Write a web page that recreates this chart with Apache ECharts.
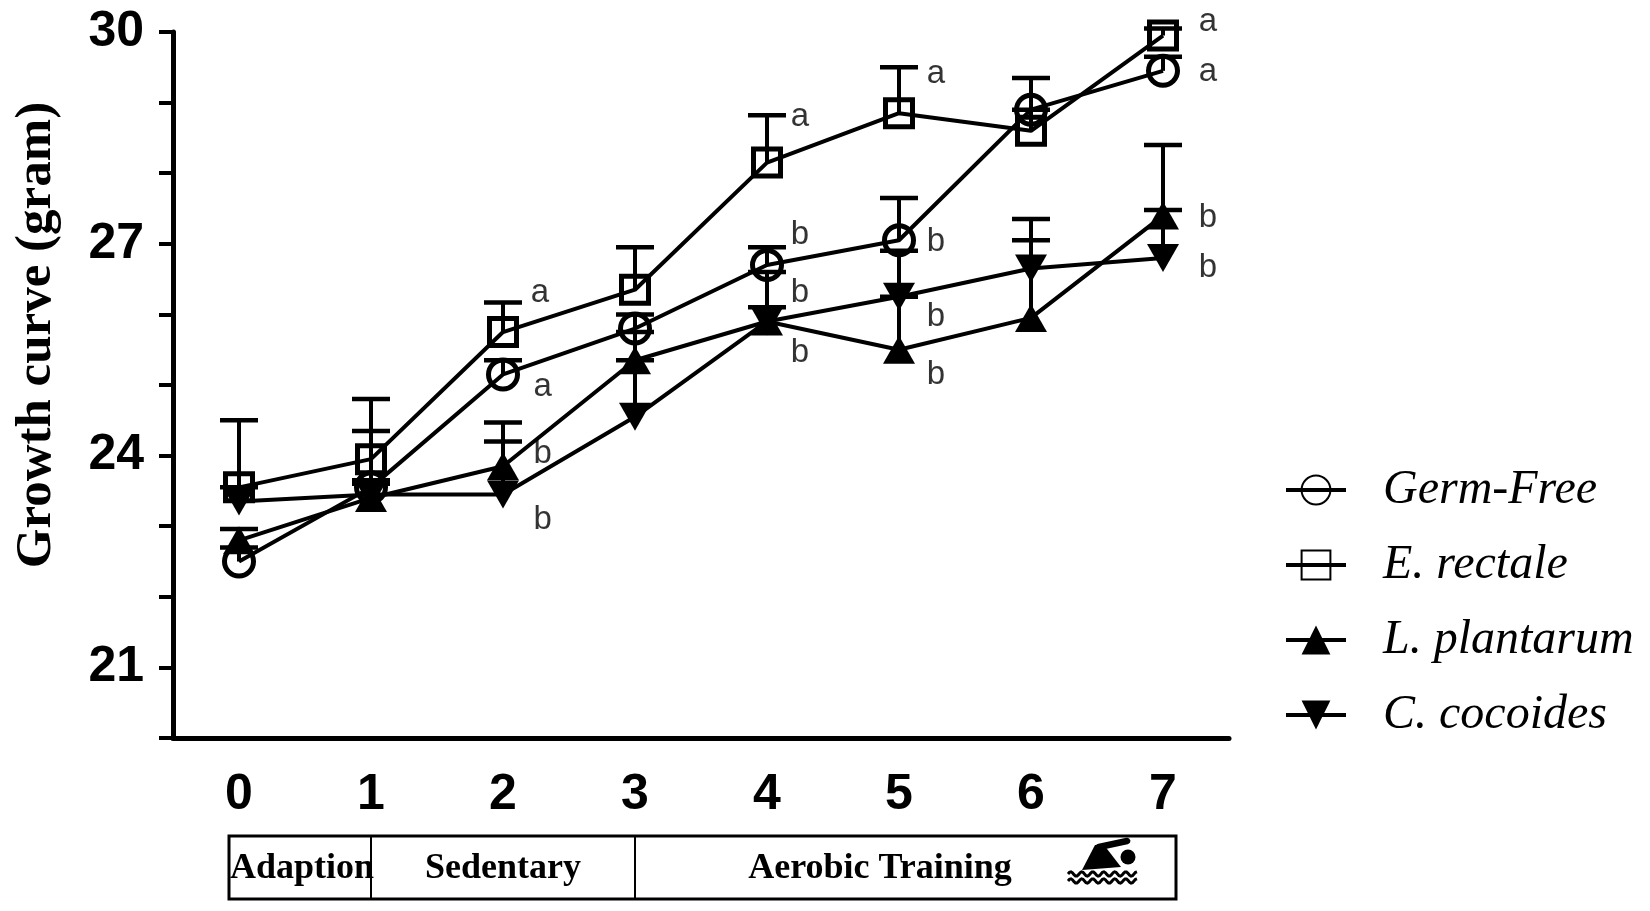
<!DOCTYPE html>
<html><head><meta charset="utf-8">
<script src="https://cdn.jsdelivr.net/npm/echarts@6/dist/echarts.min.js"></script>
<style>html,body{margin:0;padding:0;background:#fff}#c{width:1650px;height:911px}</style>
</head><body><div id="c"></div>
<script>
// ---- data ----
const days = ['0','1','2','3','4','5','6','7'];
const germFree   = [22.5, 23.55, 25.15, 25.8, 26.7, 27.05, 28.9, 29.45];
const eRectale   = [23.55, 23.95, 25.75, 26.35, 28.15, 28.85, 28.6, 29.95];
const lPlantarum = [22.8, 23.4, 23.85, 25.35, 25.9, 25.5, 25.95, 27.4];
const cCocoides  = [23.35, 23.45, 23.45, 24.55, 25.9, 26.25, 26.65, 26.8];
// upper error (SD)
const sdGermFree   = [0.2, 0.8, 0.2, 0.2, 0.25, 0.6, 0.45, 0.2];
const sdERectale   = [0.95, 0.85, 0.42, 0.6, 0.67, 0.65, 0.3, 0.1];
const sdLPlantarum = [0.16, 0.2, 0.62, 0.4, 0.2, 0.75, 1.1, 1.0];
const sdCCocoides  = [0.2, 0.2, 0.75, 0.8, 0.7, 0.65, 0.7, 0.68];
const yTickLabels = [21, 24, 27, 30];
const seriesNames = ['Germ-Free', 'E. rectale', 'L. plantarum', 'C. cocoides'];
const phaseNames = ['Adaption', 'Sedentary', 'Aerobic Training'];
const phaseDividers = [1, 3];
const yAxisTitle = 'Growth curve (gram)';
// significance letters: [day position, weight, letter]
const sigLetters = [
  [2.28, 26.3, 'a'], [2.3, 24.97, 'a'], [2.3, 24.03, 'b'], [2.3, 23.09, 'b'],
  [4.25, 28.8, 'a'], [4.25, 27.13, 'b'], [4.25, 26.3, 'b'], [4.25, 25.46, 'b'],
  [5.28, 29.4, 'a'], [5.28, 27.02, 'b'], [5.28, 25.97, 'b'], [5.28, 25.15, 'b'],
  [7.34, 30.15, 'a'], [7.34, 29.44, 'a'], [7.34, 27.36, 'b'], [7.34, 26.66, 'b']
];

const seriesValues = [germFree, eRectale, lPlantarum, cCocoides];
const seriesSd = [sdGermFree, sdERectale, sdLPlantarum, sdCCocoides];
const symbols = ['circle', 'rect', 'triangle', 'path://M0,0L20,0L10,17Z'];
const symbolSizes = [29, 27, [32, 28], [32, 28]];
const hollow = [true, true, false, false];

const chart = echarts.init(document.getElementById('c'), null, {renderer: 'canvas'});

function renderErr(params, api) {
  const i = api.value(0), m = api.value(1), t = api.value(2);
  const p0 = api.coord([i, m]), p1 = api.coord([i, t]);
  const w = 19;
  return {type: 'group', children: [
    {type: 'line', shape: {x1: p0[0], y1: p0[1], x2: p1[0], y2: p1[1]}, style: {stroke: '#000', lineWidth: 4}},
    {type: 'line', shape: {x1: p1[0] - w, y1: p1[1], x2: p1[0] + w, y2: p1[1]}, style: {stroke: '#000', lineWidth: 4.5}}
  ]};
}

const series = [];
seriesValues.forEach((vals, k) => {
  series.push({
    type: 'custom', renderItem: renderErr, z: 1, clip: false,
    encode: {x: 0, y: [1, 2]},
    data: vals.map((v, i) => [i, v, +(v + seriesSd[k][i]).toFixed(3)])
  });
});
seriesValues.forEach((vals, k) => {
  series.push({
    name: seriesNames[k], type: 'line', data: vals, z: 2,
    symbol: symbols[k], symbolSize: symbolSizes[k], showAllSymbol: true,
    lineStyle: {color: '#000', width: 4},
    itemStyle: hollow[k]
      ? {color: 'rgba(255,255,255,0)', borderColor: '#000', borderWidth: 5}
      : {color: '#000', borderColor: '#000', borderWidth: 0},
    emphasis: {disabled: true}
  });
});
series.push({
  type: 'scatter', xAxisIndex: 1, yAxisIndex: 0, z: 3, clip: false,
  symbolSize: 1, itemStyle: {color: 'rgba(0,0,0,0)'},
  data: sigLetters,
  label: {show: true, position: 'inside', formatter: p => p.value[2],
    fontFamily: 'Liberation Sans', fontSize: 33, color: '#000'}
});

const option = {
  animation: false,
  backgroundColor: '#fff',
  grid: {left: 173, right: 421, top: 32, bottom: 173},
  xAxis: [{
    type: 'category', data: days, boundaryGap: true,
    axisLine: {lineStyle: {color: '#000', width: 5}},
    axisTick: {alignWithLabel: true, length: 17, lineStyle: {color: '#000', width: 4}},
    axisLabel: {fontFamily: 'Liberation Sans', fontWeight: 'bold', fontSize: 50, color: '#000', margin: 32},
    splitLine: {show: false}
  }, {
    type: 'value', min: -0.5, max: 7.5, show: false
  }],
  yAxis: {
    type: 'value', min: 20, max: 30, interval: 1,
    axisLine: {show: true, onZero: false, lineStyle: {color: '#000', width: 5}},
    axisTick: {show: true, length: 14, lineStyle: {color: '#000', width: 4}},
    axisLabel: {formatter: v => yTickLabels.includes(v) ? String(v) : '',
      fontFamily: 'Liberation Sans', fontWeight: 'bold', fontSize: 50, color: '#000', margin: 29},
    splitLine: {show: false}
  },
  legend: {
    data: seriesNames, orient: 'vertical', left: 1279, top: 459,
    itemWidth: 60, itemHeight: 36, itemGap: 23,
    lineStyle: {width: 4, color: '#000'},
    textStyle: {fontFamily: 'Liberation Serif', fontStyle: 'italic', fontSize: 48, color: '#000',
      lineHeight: 52, padding: [0, 0, 0, 32]},
    selectedMode: false
  },
  series: series
};
chart.setOption(option);

// phase box under the x axis
const d1 = chart.convertToPixel({xAxisIndex: 0}, phaseDividers[0]);
const d2 = chart.convertToPixel({xAxisIndex: 0}, phaseDividers[1]);
const boxL = 229, boxR = 1176, boxT = 836, boxB = 899, midY = (boxT + boxB) / 2;
const phaseFont = 'bold 36px "Liberation Serif"';
const wave = (y) => {
  const pts = [];
  for (let x = 1068; x <= 1138; x += 1.5) pts.push([x, y - 2.2 * Math.sin((x - 1068) / 11 * 2 * Math.PI)]);
  return pts;
};
chart.setOption({
  graphic: [
    {type: 'text', x: 37, y: 335, rotation: Math.PI / 2, z: 10,
      style: {text: yAxisTitle, font: 'bold 51px "Liberation Serif"', fill: '#000', align: 'center', verticalAlign: 'middle'}},
    {type: 'rect', shape: {x: boxL, y: boxT, width: boxR - boxL, height: boxB - boxT},
      style: {fill: 'none', stroke: '#000', lineWidth: 3}},
    {type: 'line', shape: {x1: d1, y1: boxT, x2: d1, y2: boxB}, style: {stroke: '#000', lineWidth: 2}},
    {type: 'line', shape: {x1: d2, y1: boxT, x2: d2, y2: boxB}, style: {stroke: '#000', lineWidth: 2}},
    {type: 'text', x: (boxL + d1) / 2 + 2, y: midY + 1, style: {text: phaseNames[0], font: phaseFont, fill: '#000', align: 'center', verticalAlign: 'middle'}},
    {type: 'text', x: (d1 + d2) / 2, y: midY + 1, style: {text: phaseNames[1], font: phaseFont, fill: '#000', align: 'center', verticalAlign: 'middle'}},
    {type: 'text', x: 880, y: midY + 1, style: {text: phaseNames[2], font: phaseFont, fill: '#000', align: 'center', verticalAlign: 'middle'}},
    // swimmer icon
    {type: 'circle', shape: {cx: 1128, cy: 857, r: 7.5}, style: {fill: '#000'}},
    {type: 'line', shape: {x1: 1099, y1: 847, x2: 1127, y2: 841}, style: {stroke: '#000', lineWidth: 6.5, lineCap: 'round'}},
    {type: 'polygon', shape: {points: [[1095, 845], [1104, 845], [1121, 867], [1082, 870]]}, style: {fill: '#000'}},
    {type: 'polyline', shape: {points: wave(874)}, style: {stroke: '#000', lineWidth: 3, fill: 'none'}},
    {type: 'polyline', shape: {points: wave(881)}, style: {stroke: '#000', lineWidth: 3, fill: 'none'}}
  ]
});
</script>
</body></html>
